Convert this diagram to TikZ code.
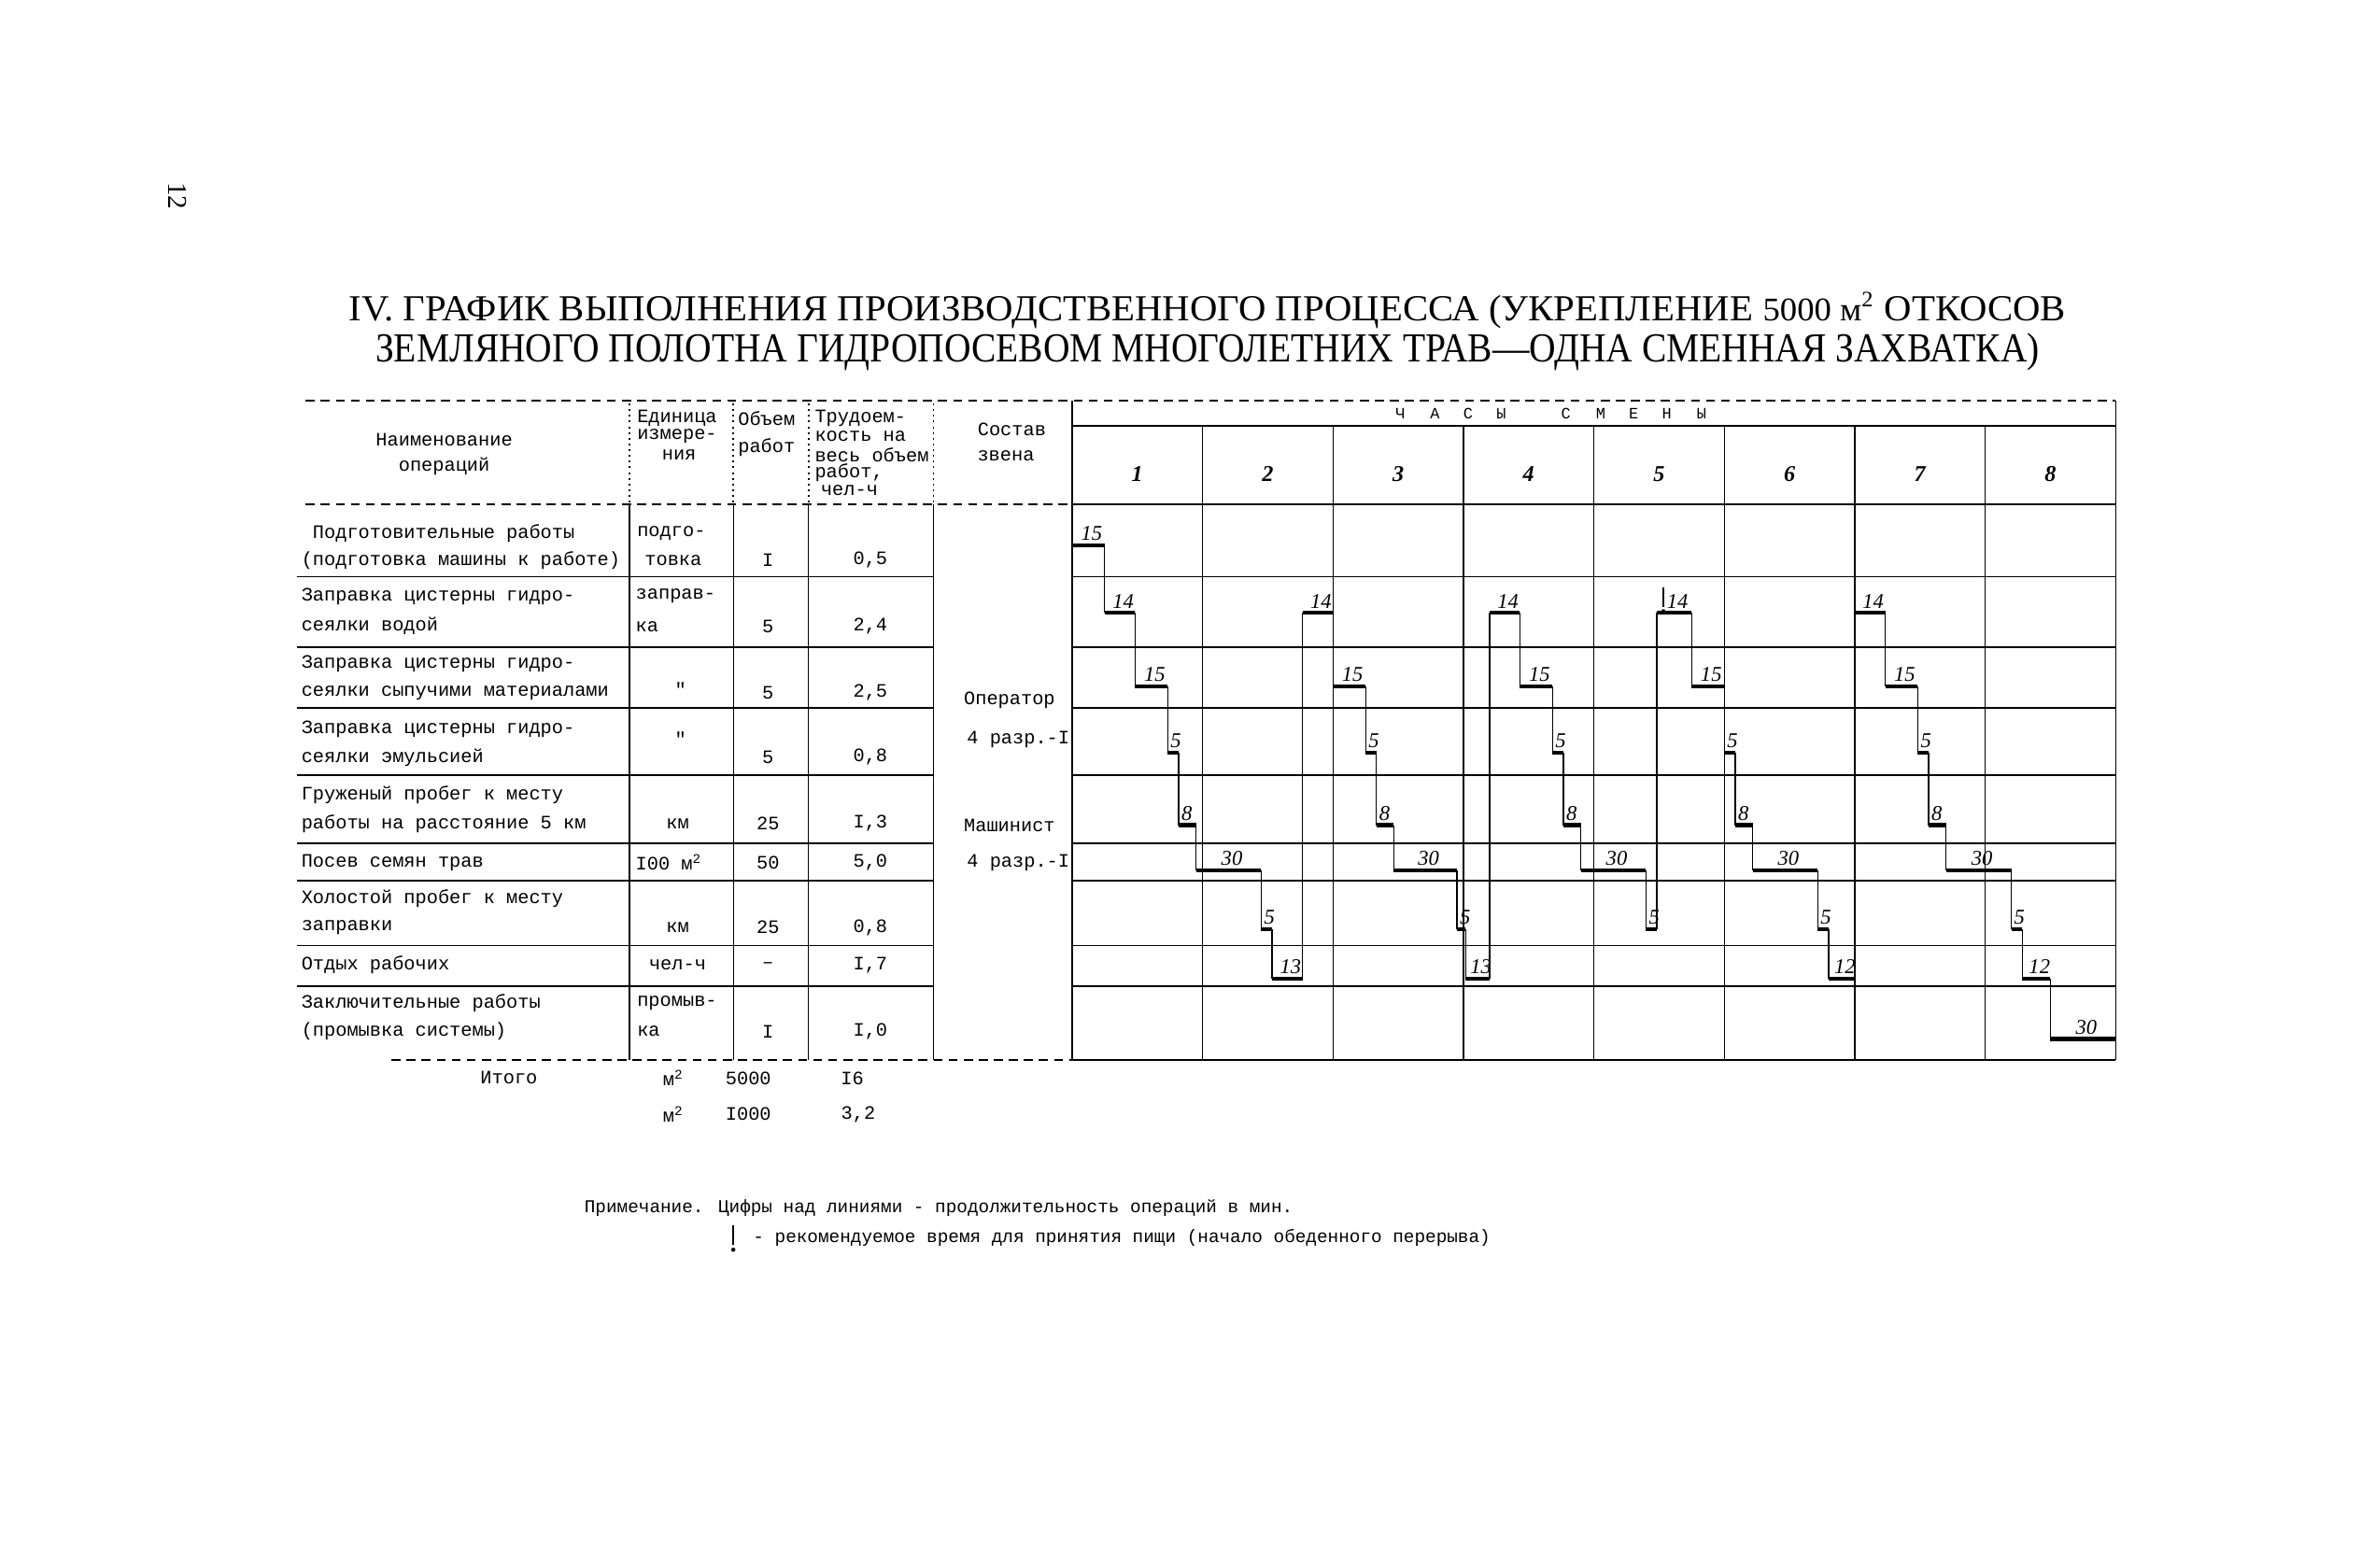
\documentclass[tikz,border=0pt]{standalone}
\usepackage{fontspec}
\usepackage{graphicx}
\setmainfont{Liberation Serif}
\newfontfamily\typew{Liberation Mono}
\usetikzlibrary{calc}

\newcommand\tabfont{\typew\fontsize{12.6}{13}\selectfont}
\newcommand\notefont{\typew\fontsize{12}{13}\selectfont}
\newcommand\numfont{\itshape\fontsize{14}{14}\selectfont}

\tikzset{lunchmark/.pic={\draw[line width=0.9pt] (0,-8) -- (0,5); \fill (0,8) circle (1.4pt);}}

\begin{document}
\begin{tikzpicture}[x=1pt,y=-1pt,
  gridline/.style={line width=0.8pt},
  rowline/.style={line width=1.2pt},
  dotline/.style={line width=1.1pt,dash pattern=on 1.2pt off 2.6pt},
  dashline/.style={line width=1.2pt,dash pattern=on 6pt off 4pt},
  bar/.style={line width=2.6pt},
  link/.style={line width=0.8pt},
  txt/.style={font=\tabfont,inner sep=0pt},
  lab/.style={font=\numfont,inner sep=0pt}]
  \useasboundingbox (0,0) rectangle (1568,1041);
  \fill[white] (0,0) rectangle (1568,1041);

  % page number and title
  \node[rotate=-90,font=\fontsize{18}{18}\selectfont] (page) at (118,130) {12};
  \node (title1) at (802,206) {\resizebox{1140pt}{19pt}{IV. ГРАФИК ВЫПОЛНЕНИЯ ПРОИЗВОДСТВЕННОГО ПРОЦЕССА (УКРЕПЛЕНИЕ {\small 5000 м\textsuperscript{2}} ОТКОСОВ}};
  \node (title2) at (802,234) {\resizebox{1105pt}{19pt}{ЗЕМЛЯНОГО ПОЛОТНА ГИДРОПОСЕВОМ МНОГОЛЕТНИХ ТРАВ—ОДНА СМЕННАЯ ЗАХВАТКА)}};

  % frame of the table
  \draw[dashline] (203,266) -- (1405,266);
  \draw[dashline] (203,335) -- (712,335);
  \draw[rowline] (712,335) -- (1405,335);
  \draw[rowline] (712,283) -- (1405,283);
  \foreach \y in {383,430,470,515,560,585,628,655} {
    \draw[rowline] (197,\y) -- (620,\y);
    \draw[rowline] (712,\y) -- (1405,\y);
  }
  \draw[dashline] (260,704) -- (712,704);
  \draw[rowline] (712,704) -- (1405,704);
  \foreach \x in {418,487,537,620} {
    \draw[dotline] (\x,268) -- (\x,335);
    \draw[gridline] (\x,335) -- (\x,704);
  }
  \draw[gridline] (712,266) -- (712,704);
  \draw[gridline] (1405,266) -- (1405,704);
  \foreach \k in {1,...,7}
    \draw[gridline] ({712+86.625*\k},283) -- ({712+86.625*\k},704);

  % header
  \node[txt] (hname1) at (295,292) {Наименование};
  \node[txt] (hname2) at (295,310) {операций};
  \node[txt,anchor=west] (hunit1) at (423,278) {Единица};
  \node[txt,anchor=west] (hunit2) at (423,290) {измере-};
  \node[txt] (hunit3) at (451,302) {ния};
  \node[txt,anchor=west] (hvol1) at (490,278) {Объем};
  \node[txt,anchor=west] (hvol2) at (490,297) {работ};
  \node[txt,anchor=west] (hlab1) at (541,278) {Трудоем-};
  \node[txt,anchor=west] (hlab2) at (541,290) {кость на};
  \node[txt,anchor=west] (hlab3) at (541,302) {весь объем};
  \node[txt,anchor=west] (hlab4) at (541,314) {работ,};
  \node[txt,anchor=west] (hlab5) at (545,326) {чел-ч};
  \node[txt] (hcrew1) at (672,285) {Состав};
  \node[txt] (hcrew2) at (668,303) {звена};
  \foreach \c/\x [count=\i] in {Ч/930,А/953,С/975,Ы/997,С/1040,М/1063,Е/1085,Н/1107,Ы/1130}
    \node[txt,font=\typew\fontsize{10.5}{10.5}\selectfont] (hour\i) at (\x,275) {\c};
  \foreach \k in {1,...,8}
    \node[font=\itshape\bfseries\fontsize{15}{15}\selectfont,inner sep=0pt] (hr\k) at ({712+86.625*(\k-0.5)},315) {\k};

  % names of operations
  \foreach \y/\t [count=\i] in {354/{\ Подготовительные работы}, 372/{(подготовка машины к работе)},
      396/{Заправка цистерны гидро-}, 416/{сеялки водой},
      441/{Заправка цистерны гидро-}, 460/{сеялки сыпучими материалами},
      484/{Заправка цистерны гидро-}, 503/{сеялки эмульсией},
      528/{Груженый пробег к месту}, 547/{работы на расстояние 5 км},
      573/{Посев семян трав},
      597/{Холостой пробег к месту}, 616/{заправки},
      641/{Отдых рабочих},
      666/{Заключительные работы}, 685/{(промывка системы)}}
    \node[txt,anchor=west] (nm\i) at (200,\y) {\t};

  % units
  \node[txt,anchor=west] (un1) at (423,354) {подго-};
  \node[txt,anchor=west] (un2) at (428,372) {товка};
  \node[txt,anchor=west] (un3) at (422,396) {заправ-};
  \node[txt,anchor=west] (un4) at (422,416) {ка};
  \node[txt] (un5) at (452,458) {"};
  \node[txt] (un6) at (452,491) {"};
  \node[txt] (un7) at (450,547) {км};
  \node[txt,anchor=west] (un8) at (422,573) {I00 м\textsuperscript{2}};
  \node[txt] (un9) at (450,616) {км};
  \node[txt] (un10) at (450,641) {чел-ч};
  \node[txt,anchor=west] (un11) at (423,666) {промыв-};
  \node[txt,anchor=west] (un12) at (423,685) {ка};

  % volume and labour
  \foreach \y/\v/\w [count=\i] in {372/I/{0,5}, 416/5/{2,4}, 460/5/{2,5}, 503/5/{0,8},
      547/25/{I,3}, 573/50/{5,0}, 616/25/{0,8}, 641/–/{I,7}, 685/I/{I,0}} {
    \node[txt] (vol\i) at (510,\y) {\v};
    \node[txt] (lab\i) at (578,\y) {\w};
  }

  % crew
  \node[txt,anchor=west] (crew1) at (640,465) {Оператор};
  \node[txt,anchor=west] (crew2) at (642,491) {4 разр.-I};
  \node[txt,anchor=west] (crew3) at (640,548) {Машинист};
  \node[txt,anchor=west] (crew4) at (642,573) {4 разр.-I};

  % totals
  \node[txt] (tot) at (338,716) {Итого};
  \node[txt] (totu1) at (447,716) {м\textsuperscript{2}};
  \node[txt] (totv1) at (497,716) {5000};
  \node[txt] (totl1) at (566,716) {I6};
  \node[txt] (totu2) at (447,740) {м\textsuperscript{2}};
  \node[txt] (totv2) at (497,740) {I000};
  \node[txt] (totl2) at (570,740) {3,2};

  % schedule, minutes from the start of the shift
  \begin{scope}[shift={(712,0)},x=1.44375pt]
    \foreach \r/\ta/\tb/\l [count=\i, remember=\r as \rp (initially 1)] in {
        1/0/15/15, 2/15/29/14, 3/29/44/15, 4/44/49/5, 5/49/57/8, 6/57/87/30, 7/87/92/5, 8/92/106/13,
        2/106/120/14, 3/120/135/15, 4/135/140/5, 5/140/148/8, 6/148/177/30, 7/177/181/5, 8/181/192/13,
        2/192/206/14, 3/206/221/15, 4/221/226/5, 5/226/234/8, 6/234/264/30, 7/264/269/5,
        2/269/285/14, 3/285/300/15, 4/300/305/5, 5/305/313/8, 6/313/343/30, 7/343/348/5, 8/348/360/12,
        2/360/374/14, 3/374/389/15, 4/389/394/5, 5/394/402/8, 6/402/432/30, 7/432/437/5, 8/437/450/12,
        9/450/480/30} {
      \pgfmathsetmacro\yb{{362,407,456,500,548,578,617,650,690}[\r-1]}
      \pgfmathsetmacro\ya{{362,407,456,500,548,578,617,650,690}[\rp-1]}
      \draw[link] (\ta,\ya) -- (\ta,\yb);
      \draw[bar] (\ta,\yb) -- (\tb,\yb);
      \ifnum\numexpr\tb-\ta\relax<10
        \node[lab,anchor=south west] (d\i) at ({\ta+1.2},{\yb-3}) {\l};
      \else
        \node[lab,anchor=south] (d\i) at ({(\ta+\tb)/2+1.5},{\yb-3}) {\l};
      \fi
    }
    \pic at (272,398) {lunchmark};
  \end{scope}

  % note
  \node[font=\notefont,inner sep=0pt,anchor=west] (note1) at (388,802) {Примечание. Цифры над линиями - продолжительность операций в мин.};
  \pic at (487,822) {lunchmark};
  \node[font=\notefont,inner sep=0pt,anchor=west] (note2) at (500,822) {- рекомендуемое время для принятия пищи (начало обеденного перерыва)};
\end{tikzpicture}
\end{document}
